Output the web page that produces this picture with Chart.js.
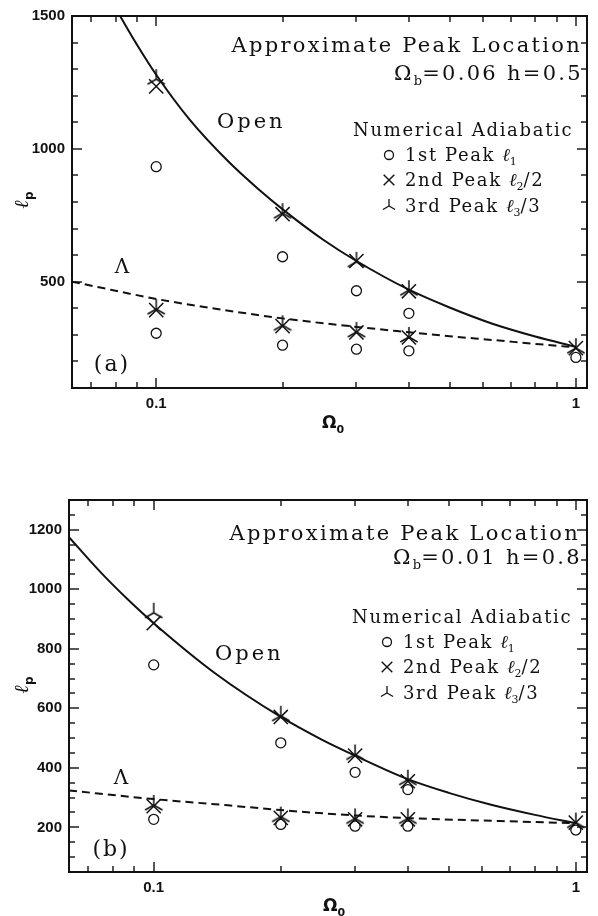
<!DOCTYPE html>
<html><head><meta charset="utf-8">
<script src="https://cdn.jsdelivr.net/npm/chart.js@4.4.1/dist/chart.umd.min.js"></script>
<style>
html,body{margin:0;padding:0;background:#fff;}
#wrap{position:relative;width:598px;height:916px;overflow:hidden;}
canvas{position:absolute;left:0;}
</style></head><body>
<div id="wrap">
<canvas id="ca" width="598" height="450" style="top:0px"></canvas>
<canvas id="cb" width="598" height="458" style="top:458px"></canvas>
</div>
<script>
// ---------- data ----------
const omega0 = [0.1, 0.2, 0.3, 0.4, 1.0];
const omega0Lambda = [0.1, 0.2, 0.3, 0.4];
const xTickLabels = [0.1, 1];
const xMinorTicks = [0.07, 0.08, 0.09, 0.2, 0.3, 0.4, 0.5, 0.6, 0.7, 0.8, 0.9];

// panel (a): Omega_b = 0.06, h = 0.5
const aOpenPeak1 = [933, 594, 466, 381, 215];
const aOpenPeak2 = [1235, 754, 578, 464, 250];
const aOpenPeak3 = [1262, 758, 575, 468, 250];
const aLambdaPeak1 = [306, 261, 246, 240];
const aLambdaPeak2 = [393, 333, 309, 290];
const aLambdaPeak3 = [397, 336, 311, 292];
const aOpenCurveX = [0.082, 0.09, 0.1, 0.12, 0.148, 0.175, 0.204, 0.25, 0.3, 0.4, 0.5, 0.63, 0.8, 1.0];
const aOpenCurveY = [1500, 1392, 1279, 1111, 955, 849, 762, 658, 578, 470, 403, 343, 294, 255];
const aLambdaCurveX = [0.063, 0.0736, 0.0865, 0.1, 0.15, 0.2, 0.3, 0.4, 0.5, 0.63, 0.8, 1.0];
const aLambdaCurveY = [500, 478, 455, 435, 390, 362, 330, 310, 295, 281, 266, 253];
const aYTickLabels = [500, 1000, 1500];
const aYMinorTicks = [100, 200, 300, 400, 600, 700, 800, 900, 1100, 1200, 1300, 1400];

// panel (b): Omega_b = 0.01, h = 0.8
const bOpenPeak1 = [746, 484, 385, 327, 191];
const bOpenPeak2 = [886, 571, 441, 355, 216];
const bOpenPeak3 = [921, 575, 445, 360, 216];
const bLambdaPeak1 = [227, 210, 204, 204];
const bLambdaPeak2 = [271, 232, 227, 227];
const bLambdaPeak3 = [275, 236, 230, 230];
const bOpenCurveX = [0.063, 0.075, 0.088, 0.1, 0.14, 0.2, 0.25, 0.3, 0.4, 0.5, 0.63, 0.8, 1.0];
const bOpenCurveY = [1175, 1056, 958, 886, 717, 571, 495, 441, 362, 316, 276, 242, 214];
const bLambdaCurveX = [0.063, 0.1, 0.15, 0.2, 0.3, 0.4, 0.6, 1.0];
const bLambdaCurveY = [324, 295, 274, 258, 240, 231, 223, 214];
const bYTickLabels = [200, 400, 600, 800, 1000, 1200];
const bYMinorTicks = [50, 100, 150, 250, 300, 350, 450, 500, 550, 650, 700, 750, 850, 900, 950, 1050, 1100, 1150, 1250, 1300];

// ---------- helpers ----------
const zip = (xs, ys) => xs.map((x, i) => ({x, y: ys[i]}));
const INK = '#111';
const SERIF = 'DejaVu Serif';

function makeTri(size, lw) {
  const c = document.createElement('canvas');
  c.width = c.height = size;
  const g = c.getContext('2d');
  const r = size / 2 - 1, cx = size / 2, cy = size / 2;
  g.strokeStyle = INK; g.lineWidth = lw; g.lineCap = 'butt';
  g.beginPath();
  [-90, 150, 30].forEach(a => {
    const rad = a * Math.PI / 180;
    g.moveTo(cx, cy); g.lineTo(cx + r * Math.cos(rad), cy + r * Math.sin(rad));
  });
  g.stroke();
  return c;
}
const triBig = makeTri(22, 1.5);
const triSmall = makeTri(16, 1.3);

function drawRuns(ctx, runs, x, y, align) {
  const widths = runs.map(r => {
    ctx.font = r.font; ctx.letterSpacing = (r.ls || 0) + 'px';
    return ctx.measureText(r.t).width;
  });
  const total = widths.reduce((a, b) => a + b, 0);
  let cx = align === 'right' ? x - total : align === 'center' ? x - total / 2 : x;
  runs.forEach((r, i) => {
    ctx.font = r.font; ctx.letterSpacing = (r.ls || 0) + 'px';
    ctx.fillText(r.t, cx, y + (r.dy || 0));
    cx += widths[i];
  });
  ctx.letterSpacing = '0px';
}

function framePlugin(fr) {
  return {
    id: 'frame',
    afterDraw(chart) {
      const ctx = chart.ctx, a = chart.chartArea, xs = chart.scales.x, ys = chart.scales.y;
      ctx.save();
      ctx.fillStyle = INK;
      const L = Math.round(a.left), R = Math.round(a.right), T = Math.round(a.top), B = Math.round(a.bottom);
      // frame
      ctx.fillRect(L - 1, T - 1, R - L + 2, 2);
      ctx.fillRect(L - 1, B - 1, R - L + 2, 2);
      ctx.fillRect(L - 1, T - 1, 2, B - T + 2);
      ctx.fillRect(R - 1, T - 1, 2, B - T + 2);
      const yTick = (v, len) => {
        const py = Math.round(ys.getPixelForValue(v));
        ctx.fillRect(L, py - 0.7, len, 1.4);
        ctx.fillRect(R - len, py - 0.7, len, 1.4);
      };
      const xTick = (v, len) => {
        const px = Math.round(xs.getPixelForValue(v));
        ctx.fillRect(px - 0.7, B - len, 1.4, len);
        ctx.fillRect(px - 0.7, T, 1.4, len);
      };
      fr.yMinor.forEach(v => yTick(v, 6));
      fr.yMajor.forEach(v => yTick(v, 10));
      xMinorTicks.forEach(v => xTick(v, 6));
      xTickLabels.forEach(v => xTick(v, 10));
      ctx.restore();
    }
  };
}

function textPlugin(o) {
  return {
    id: 'texts',
    afterDraw(chart) {
      const ctx = chart.ctx;
      ctx.save();
      ctx.fillStyle = INK; ctx.textBaseline = 'alphabetic'; ctx.textAlign = 'left';
      const F = '21px ' + SERIF, FS = '13px ' + SERIF, FL = '18px ' + SERIF;
      drawRuns(ctx, [{t: 'Approximate Peak Location', font: F, ls: 2.3}], o.titleX, o.titleY, 'right');
      drawRuns(ctx, [{t: 'Ω', font: F, ls: 2.3}, {t: 'b', font: FS, dy: 5}, {t: '=' + o.sub, font: F, ls: 2.3}], o.subX, o.subY, 'right');
      drawRuns(ctx, [{t: 'Open', font: F, ls: 3}], o.openX, o.openY, 'left');
      drawRuns(ctx, [{t: 'Λ', font: '20px ' + SERIF}], o.lamX, o.lamY, 'center');
      drawRuns(ctx, [{t: o.panel, font: '22px ' + SERIF, ls: 2}], o.panelX, o.panelY, 'center');
      drawRuns(ctx, [{t: 'Numerical Adiabatic', font: FL, ls: 1.7}], o.numX, o.numY, 'left');
      const ell = 'italic 18px ' + SERIF, sub = '11px ' + SERIF;
      const rows = [
        [{t: '1st Peak ', font: FL, ls: 1.6}, {t: 'ℓ', font: ell}, {t: '1', font: sub, dy: 4}],
        [{t: '2nd Peak ', font: FL, ls: 1.6}, {t: 'ℓ', font: ell}, {t: '2', font: sub, dy: 4}, {t: '/2', font: FL, ls: 1.6}],
        [{t: '3rd Peak ', font: FL, ls: 1.6}, {t: 'ℓ', font: ell}, {t: '3', font: sub, dy: 4}, {t: '/3', font: FL, ls: 1.6}]
      ];
      const styles = [
        {pointStyle: 'circle', radius: 4.5, borderWidth: 1.3},
        {pointStyle: 'crossRot', radius: 7.5, borderWidth: 1.4},
        {pointStyle: triSmall, radius: 7, borderWidth: 1.3}
      ];
      rows.forEach((r, i) => {
        const cy = o.rowY[i];
        ctx.save(); ctx.fillStyle = 'rgba(0,0,0,0)'; ctx.strokeStyle = INK; ctx.lineWidth = styles[i].borderWidth;
        Chart.helpers.drawPoint(ctx, styles[i], o.markX, cy);
        ctx.restore();
        drawRuns(ctx, r, o.markX + 16, cy + 6, 'left');
      });
      drawRuns(ctx, [{t: 'Ω', font: 'bold 17px DejaVu Sans'}, {t: '0', font: 'bold 11px DejaVu Sans', dy: 5}], o.xtX, o.xtY, 'center');
      ctx.translate(o.ytX, o.ytY); ctx.rotate(-Math.PI / 2);
      drawRuns(ctx, [{t: 'ℓ', font: 'italic bold 20px ' + SERIF}, {t: 'p', font: 'bold 12px DejaVu Sans', dy: 5}], 0, 0, 'center');
      ctx.restore();
    }
  };
}

function makePanel(id, d) {
  const ptCircle = {pointStyle: 'circle', pointRadius: 5, borderColor: INK, backgroundColor: 'rgba(0,0,0,0)', borderWidth: 1.3, showLine: false};
  const ptCross = {pointStyle: 'crossRot', pointRadius: 10, borderColor: INK, borderWidth: 1.5, showLine: false};
  const ptTri = {pointStyle: triBig, pointRadius: 10, borderColor: INK, showLine: false};
  const tickFont = {family: 'Liberation Sans', weight: 'bold', size: 15};
  return new Chart(document.getElementById(id), {
    type: 'scatter',
    data: {datasets: [
      {type: 'line', data: zip(d.openCX, d.openCY), borderColor: INK, borderWidth: 2, pointRadius: 0, fill: false, cubicInterpolationMode: 'monotone'},
      {type: 'line', data: zip(d.lamCX, d.lamCY), borderColor: INK, borderWidth: 2, borderDash: [8, 5], pointRadius: 0, fill: false, cubicInterpolationMode: 'monotone'},
      Object.assign({data: zip(omega0, d.op1)}, ptCircle),
      Object.assign({data: zip(omega0, d.op2)}, ptCross),
      Object.assign({data: zip(omega0, d.op3)}, ptTri),
      Object.assign({data: zip(omega0Lambda, d.lp1)}, ptCircle),
      Object.assign({data: zip(omega0Lambda, d.lp2)}, ptCross),
      Object.assign({data: zip(omega0Lambda, d.lp3)}, ptTri)
    ]},
    options: {
      responsive: false, animation: false, events: [],
      layout: {padding: {left: 0, top: d.padTop, right: 1, bottom: 0}},
      plugins: {legend: {display: false}, tooltip: {enabled: false}},
      scales: {
        x: {type: 'logarithmic', min: 0.063, max: 1.06,
            grid: {display: false, drawTicks: false}, border: {display: false},
            ticks: {autoSkip: false, maxRotation: 0, padding: 7, color: INK, font: tickFont,
                    callback: v => String(v)},
            afterBuildTicks: s => { s.ticks = xTickLabels.map(v => ({value: v})); },
            afterFit: s => { s.height = d.xH; }},
        y: {type: 'linear', min: d.yMin, max: d.yMax,
            grid: {display: false, drawTicks: false}, border: {display: false},
            ticks: {autoSkip: false, padding: 7, color: INK, font: tickFont, callback: v => String(v)},
            afterBuildTicks: s => { s.ticks = d.yLabels.map(v => ({value: v})); },
            afterFit: s => { s.width = d.yW; }}
      }
    },
    plugins: [framePlugin(d.frame), textPlugin(d.texts)]
  });
}

makePanel('ca', {
  openCX: aOpenCurveX, openCY: aOpenCurveY, lamCX: aLambdaCurveX, lamCY: aLambdaCurveY,
  op1: aOpenPeak1, op2: aOpenPeak2, op3: aOpenPeak3, lp1: aLambdaPeak1, lp2: aLambdaPeak2, lp3: aLambdaPeak3,
  yLabels: aYTickLabels, yMin: 100, yMax: 1500, padTop: 14, xH: 62, yW: 72,
  frame: {yMinor: aYMinorTicks, yMajor: aYTickLabels},
  texts: {titleX: 582, titleY: 52, sub: '0.06 h=0.5', subX: 583, subY: 80, openX: 217, openY: 128,
          lamX: 122, lamY: 273, panel: '(a)', panelX: 112, panelY: 371, numX: 353, numY: 136,
          rowY: [155, 180, 206], markX: 389, xtX: 333, xtY: 428, ytX: 28, ytY: 200}
});
makePanel('cb', {
  openCX: bOpenCurveX, openCY: bOpenCurveY, lamCX: bLambdaCurveX, lamCY: bLambdaCurveY,
  op1: bOpenPeak1, op2: bOpenPeak2, op3: bOpenPeak3, lp1: bLambdaPeak1, lp2: bLambdaPeak2, lp3: bLambdaPeak3,
  yLabels: bYTickLabels, yMin: 50, yMax: 1300, padTop: 42, xH: 44, yW: 69,
  frame: {yMinor: bYMinorTicks, yMajor: bYTickLabels},
  texts: {titleX: 580, titleY: 82, sub: '0.01 h=0.8', subX: 582, subY: 106, openX: 215, openY: 202,
          lamX: 121, lamY: 326, panel: '(b)', panelX: 111, panelY: 398, numX: 352, numY: 165,
          rowY: [184, 209, 235], markX: 387, xtX: 334, xtY: 453, ytX: 28, ytY: 227}
});
</script>
</body></html>
